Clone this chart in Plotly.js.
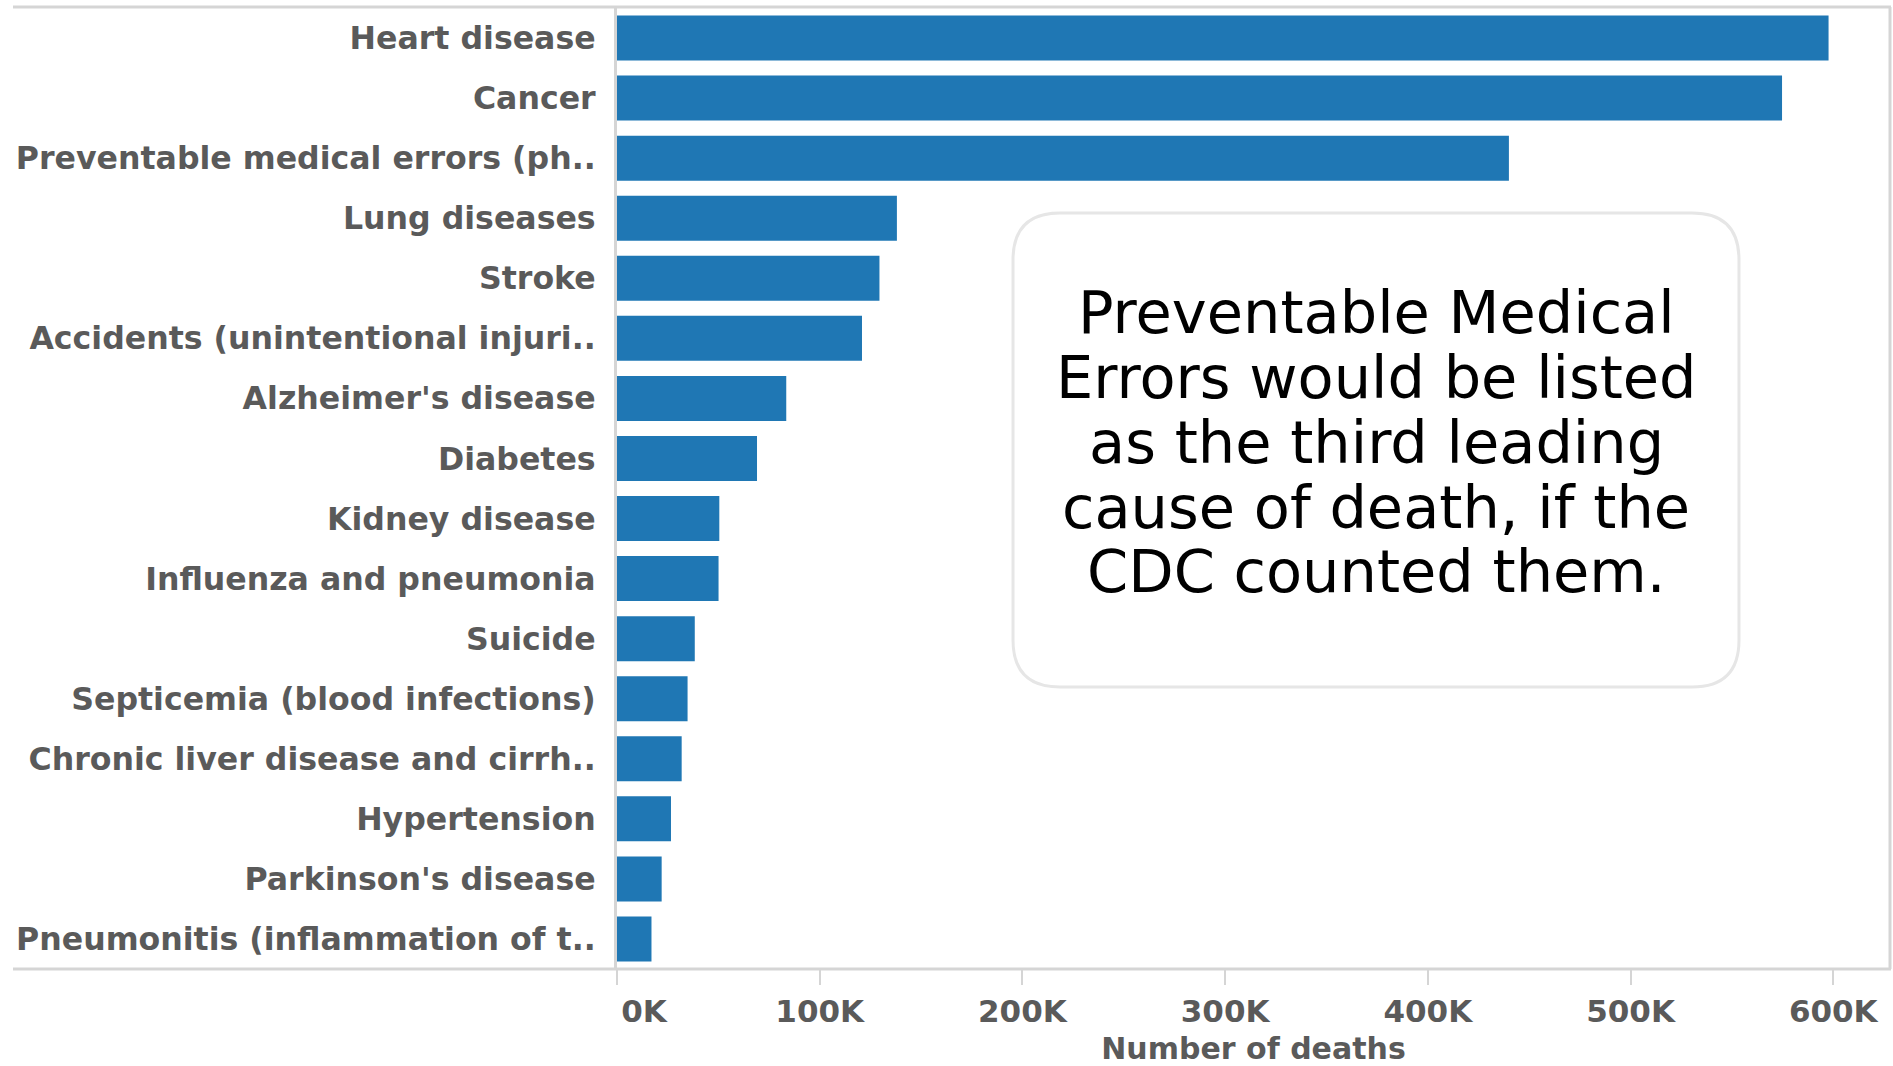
<!DOCTYPE html>
<html>
<head>
<meta charset="utf-8">
<script src="https://cdn.plot.ly/plotly-3.0.1.min.js"></script>
<style>
  html, body { margin: 0; padding: 0; background: #ffffff; }
  #chart { width: 1893px; height: 1066px; }
</style>
</head>
<body>
<div id="chart"></div>
<script>
// Leading causes of death in the US (CDC, 2010) with preventable medical errors added
const causes = [
  "Heart disease",
  "Cancer",
  "Preventable medical errors (ph..",
  "Lung diseases",
  "Stroke",
  "Accidents (unintentional injuri..",
  "Alzheimer's disease",
  "Diabetes",
  "Kidney disease",
  "Influenza and pneumonia",
  "Suicide",
  "Septicemia (blood infections)",
  "Chronic liver disease and cirrh..",
  "Hypertension",
  "Parkinson's disease",
  "Pneumonitis (inflammation of t.."
];

const deaths = [
  597689, 574743, 440000, 138080, 129476, 120859, 83494, 69071,
  50476, 50097, 38364, 34812, 31903, 26634, 22032, 17011
];

const tickValues = [0, 100000, 200000, 300000, 400000, 500000, 600000];
const tickLabels = ["0K", "100K", "200K", "300K", "400K", "500K", "600K"];

const noteLines = [
  "Preventable Medical",
  "Errors would be listed",
  "as the third leading",
  "cause of death, if the",
  "CDC counted them."
];

const W = 1893, H = 1066;
const margin = { l: 617, r: 3, t: 8, b: 97 };
const plotW = W - margin.l - margin.r;
const plotH = H - margin.t - margin.b;

// pixel -> paper helpers for the frame and the callout box
const px = x => (x - margin.l) / plotW;
const py = y => (H - margin.b - y) / plotH;

const frameColor = "#d5d5d5";
const textGray = "#5a5a5a";
const labelFont = { family: "DejaVu Sans", size: 31.6, color: textGray, weight: "bold" };

// the first tick label sits just inside the axis start, so pad it on the left
const shownTickLabels = tickLabels.map((t, i) => i === 0 ? "\u00a0\u00a0\u00a0\u00a0\u00a0" + t : t);

// rounded callout box
const box = { x0: 1013, y0: 213, x1: 1739, y1: 687, r: 47 };
function roundedPath(b) {
  const p = (x, y) => px(x).toFixed(5) + "," + py(y).toFixed(5);
  return "M" + p(b.x0 + b.r, b.y0) +
    " L" + p(b.x1 - b.r, b.y0) +
    " Q" + p(b.x1, b.y0) + " " + p(b.x1, b.y0 + b.r) +
    " L" + p(b.x1, b.y1 - b.r) +
    " Q" + p(b.x1, b.y1) + " " + p(b.x1 - b.r, b.y1) +
    " L" + p(b.x0 + b.r, b.y1) +
    " Q" + p(b.x0, b.y1) + " " + p(b.x0, b.y1 - b.r) +
    " L" + p(b.x0, b.y0 + b.r) +
    " Q" + p(b.x0, b.y0) + " " + p(b.x0 + b.r, b.y0) + " Z";
}

const shapes = [
  // top rule
  { type: "line", xref: "paper", yref: "paper", x0: px(13), x1: px(1891), y0: py(7), y1: py(7),
    line: { color: frameColor, width: 3 } },
  // bottom rule
  { type: "line", xref: "paper", yref: "paper", x0: px(13), x1: px(1891), y0: py(969), y1: py(969),
    line: { color: frameColor, width: 3 } },
  // right rule
  { type: "line", xref: "paper", yref: "paper", x0: px(1890), x1: px(1890), y0: py(7), y1: py(969),
    line: { color: frameColor, width: 3 } },
  // callout box
  { type: "path", xref: "paper", yref: "paper", path: roundedPath(box),
    line: { color: "#e6e6e6", width: 3 }, fillcolor: "rgba(255,255,255,1)", layer: "above" }
];

const lineGap = 64.7;
const firstBaseline = 333.3;
const noteSize = 59;
const annotations = noteLines.map((t, i) => ({
  text: t,
  xref: "paper", yref: "paper",
  x: px(1376), y: py(firstBaseline + i * lineGap - 0.345 * noteSize),
  xanchor: "center", yanchor: "middle",
  showarrow: false,
  font: { family: "DejaVu Sans", size: noteSize, color: "#000000" }
}));

const trace = {
  type: "bar",
  orientation: "h",
  x: deaths,
  y: causes,
  marker: { color: "#1f77b4" },
  hoverinfo: "x+y"
};

const layout = {
  width: W, height: H,
  margin: margin,
  paper_bgcolor: "#ffffff",
  plot_bgcolor: "#ffffff",
  bargap: 0.25,
  showlegend: false,
  xaxis: {
    range: [0, 628000],
    tickvals: tickValues,
    ticktext: shownTickLabels,
    ticks: "outside",
    ticklen: 15,
    tickwidth: 2,
    tickcolor: frameColor,
    showgrid: false,
    zeroline: false,
    showline: false,
    tickfont: { family: "DejaVu Sans", size: 31, color: textGray, weight: "bold" },
    ticklabelstandoff: 0,
    title: {
      text: "Number of deaths",
      font: { family: "DejaVu Sans", size: 30, color: textGray, weight: "bold" },
      standoff: 13
    },
    fixedrange: true
  },
  yaxis: {
    autorange: "reversed",
    type: "category",
    showgrid: false,
    zeroline: false,
    showline: true,
    linecolor: frameColor,
    linewidth: 3,
    ticks: "",
    ticklabelstandoff: 12,
    tickfont: labelFont,
    fixedrange: true
  },
  shapes: shapes,
  annotations: annotations
};

Plotly.newPlot("chart", [trace], layout, { displayModeBar: false, staticPlot: true });
</script>
</body>
</html>
